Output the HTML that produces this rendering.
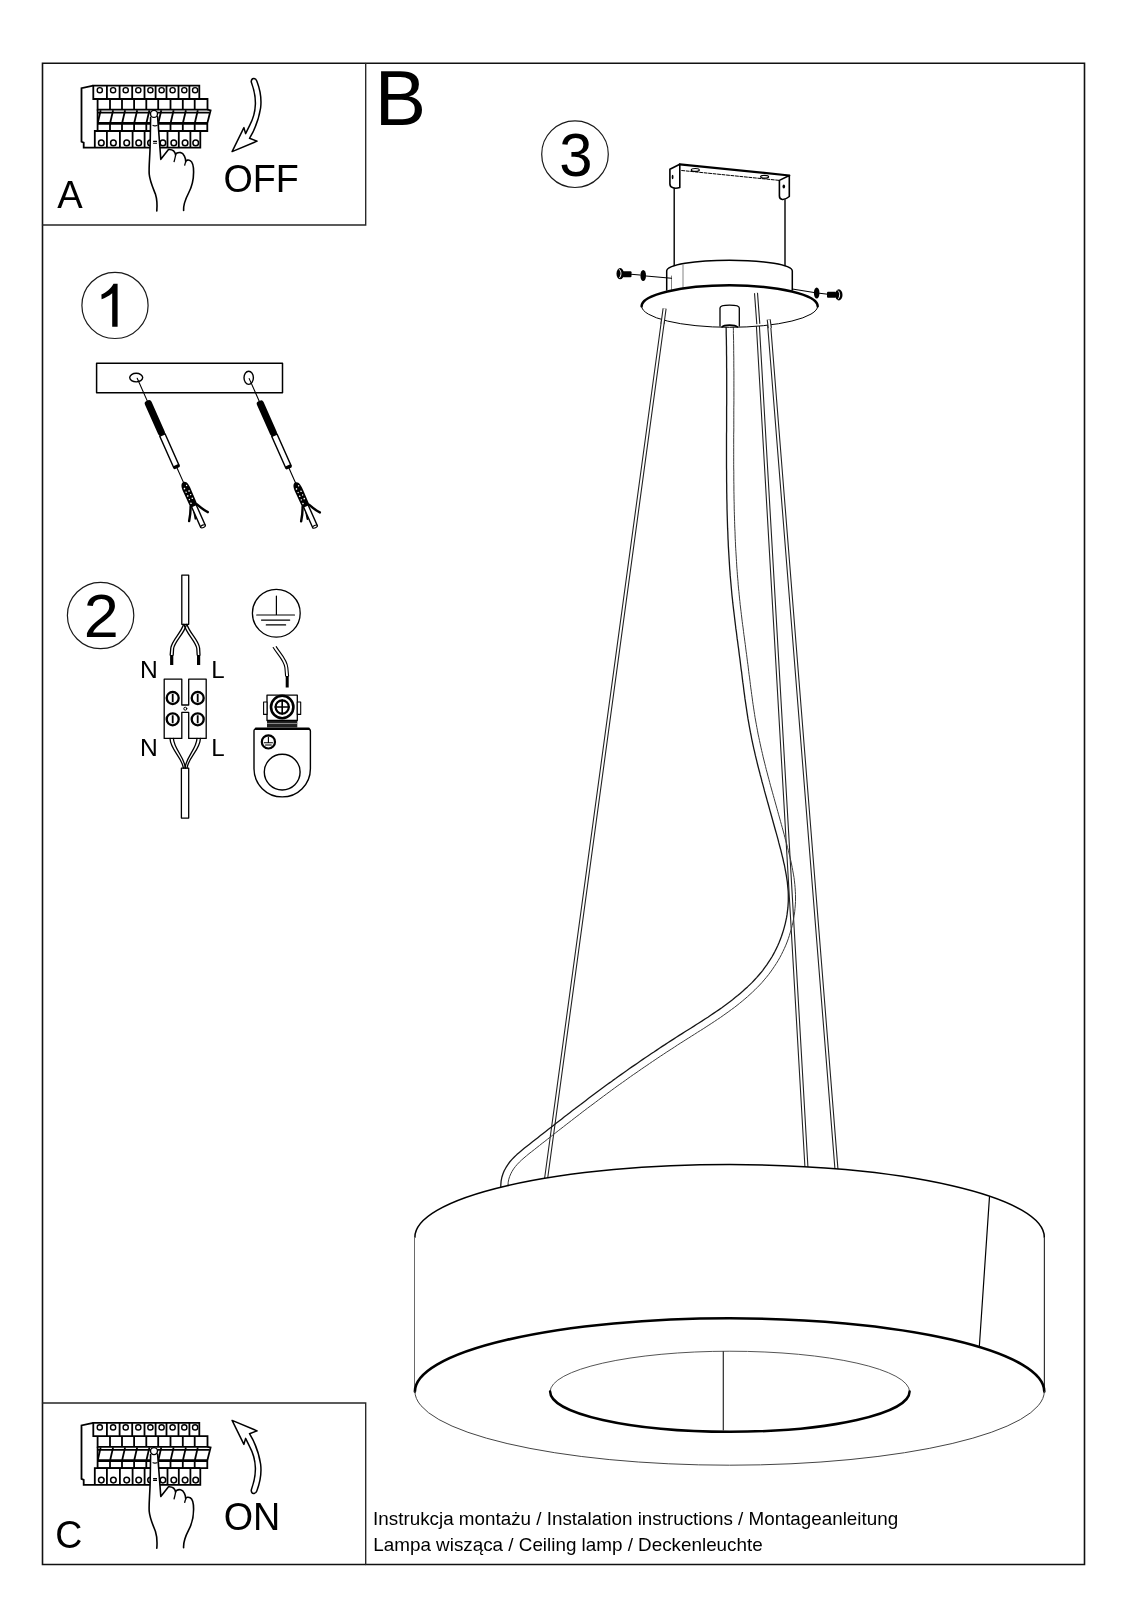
<!DOCTYPE html>
<html><head><meta charset="utf-8">
<style>
html,body{margin:0;padding:0;background:#fff;}
body{width:1131px;height:1600px;overflow:hidden;position:relative;}
svg{position:absolute;left:0;top:0;}
text{font-family:"Liberation Sans",sans-serif;fill:#000;}
svg{will-change:transform}
</style></head><body>
<svg width="1131" height="1600" viewBox="0 0 1131 1600" fill="none" stroke="#000" stroke-linecap="round" stroke-linejoin="round">
<!-- FRAME -->
<g id="frame">
<path d="M42.5 63.3H1084.5V1564.5H42.5Z" stroke-width="1.6" stroke="#111" stroke-linejoin="miter"/>
<path d="M365.7 63.3V225H42.5" stroke-width="1.35" stroke="#262626" stroke-linejoin="miter"/>
<path d="M42.5 1403H365.7V1564.5" stroke-width="1.35" stroke="#262626" stroke-linejoin="miter"/>
</g>
<!-- LABELS -->
<g id="labels" stroke="none" fill="#000" font-size="100">
<text transform="translate(57.3,207.8) scale(0.3818,0.3913)">A</text>
<text transform="translate(223.42,192.01) scale(0.3770,0.3873)">OFF</text>
<text transform="translate(374.84,124.8) scale(0.7698,0.7783)">B</text>
<text transform="translate(55.33,1547.81) scale(0.3746,0.3887)">C</text>
<text transform="translate(223.71,1530.11) scale(0.3774,0.3873)">ON</text>
<text transform="translate(83.85,636.8) scale(0.6304,0.6171)">2</text>
<text transform="translate(559.31,175.98) scale(0.5979,0.6183)">3</text>
<text transform="translate(373.11,1525.3) scale(0.1883,0.1870)">Instrukcja montażu / Instalation instructions / Montageanleitung</text>
<text transform="translate(373.29,1550.8) scale(0.1884,0.1880)">Lampa wisząca / Ceiling lamp / Deckenleuchte</text>
<path d="M117.6 283.7L117.6 326.8L112.2 326.8L112.2 293.2C109 296 105 298 101.6 299.3L101.4 294.4C106 292.5 111 288.5 113.5 283.7Z"/>
</g>
<!-- NUMBER CIRCLES -->
<g id="nums" stroke-width="1.2" stroke="#1a1a1a">
<circle cx="115" cy="305.4" r="33.1"/>
<circle cx="100.6" cy="615.5" r="33.2"/>
<circle cx="575" cy="154.2" r="33.3"/>
</g>
<!-- LAMP UPPER -->
<g id="lampup">
<!-- rods -->
<g id="rods" style="mix-blend-mode:multiply">
<path d="M664.6 308.5L545.9 1180M756 293L806.6 1170M768.7 319.6L836.6 1171" stroke-width="4.1" stroke="#222" stroke-linecap="butt"/>
<path d="M664.6 308.5L545.9 1180M756 293L806.6 1170M768.7 319.6L836.6 1171" stroke-width="1.9" stroke="#fff" stroke-linecap="butt"/>
</g>
<!-- cable -->
<path d="M726.1 327.1L726.2 330.4L726.2 333.8L726.3 337.1L726.4 340.4L726.4 343.8L726.5 347.1L726.5 350.5L726.5 353.8L726.6 357.1L726.6 360.5L726.6 363.8L726.6 367.2L726.7 370.5L726.7 373.9L726.7 377.2L726.7 380.6L726.7 383.9L726.7 387.3L726.7 390.6L726.7 394.0L726.7 397.4L726.7 400.7L726.7 404.1L726.6 407.4L726.6 410.8L726.6 414.1L726.6 417.5L726.6 420.9L726.6 424.2L726.6 427.6L726.6 430.9L726.5 434.3L726.5 437.6L726.5 441.0L726.5 444.4L726.5 447.7L726.5 451.1L726.5 454.5L726.5 457.8L726.5 461.2L726.5 464.5L726.5 467.9L726.6 471.3L726.6 474.6L726.6 478.0L726.6 481.4L726.7 484.7L726.7 488.1L726.7 491.4L726.8 494.8L726.8 498.2L726.9 501.5L727.0 504.9L727.0 508.3L727.1 511.6L727.2 515.0L727.3 518.3L727.4 521.7L727.5 525.1L727.6 528.4L727.8 531.8L727.9 535.1L728.0 538.5L728.2 541.9L728.3 545.2L728.5 548.6L728.7 551.9L728.9 555.3L729.1 558.6L729.3 562.0L729.5 565.3L729.7 568.7L730.0 572.1L730.2 575.4L730.5 578.8L730.8 582.1L731.1 585.5L731.4 588.8L731.7 592.2L732.0 595.5L732.4 598.8L732.7 602.2L733.1 605.5L733.5 608.9L733.9 612.2L734.3 615.5L734.7 618.9L735.1 622.2L735.5 625.5L735.9 628.9L736.4 632.2L736.8 635.5L737.2 638.9L737.7 642.2L738.1 645.5L738.6 648.8L739.0 652.2L739.4 655.5L739.9 658.8L740.3 662.2L740.7 665.5L741.1 668.8L741.6 672.2L742.0 675.5L742.4 678.8L742.8 682.2L743.3 685.5L743.7 688.9L744.1 692.2L744.6 695.6L745.0 698.9L745.5 702.2L746.0 705.6L746.5 708.9L747.0 712.3L747.5 715.6L748.0 718.9L748.6 722.2L749.2 725.6L749.8 728.9L750.4 732.2L751.1 735.5L751.7 738.8L752.4 742.1L753.1 745.4L753.8 748.6L754.6 751.9L755.3 755.2L756.1 758.4L756.9 761.7L757.7 765.0L758.5 768.2L759.4 771.5L760.2 774.7L761.1 777.9L761.9 781.2L762.8 784.4L763.7 787.6L764.5 790.9L765.4 794.1L766.3 797.3L767.2 800.6L768.1 803.8L769.0 807.0L769.9 810.3L770.8 813.5L771.7 816.7L772.6 820.0L773.5 823.2L774.4 826.5L775.3 829.7L776.2 832.9L777.1 836.2L778.0 839.4L778.8 842.7L779.7 846.0L780.6 849.2L781.4 852.5L782.2 855.8L783.0 859.0L783.7 862.3L784.5 865.5L785.1 868.8L785.7 872.1L786.3 875.3L786.8 878.6L787.3 881.8L787.6 885.1L787.9 888.3L788.2 891.5L788.3 894.8L788.3 898.0L788.3 901.2L788.1 904.5L787.9 907.7L787.5 910.9L787.1 914.2L786.6 917.4L785.9 920.6L785.2 923.8L784.4 926.9L783.5 930.1L782.5 933.2L781.5 936.3L780.3 939.4L779.1 942.4L777.8 945.4L776.4 948.4L775.0 951.3L773.5 954.1L771.9 957.0L770.2 959.7L768.4 962.4L766.6 965.1L764.7 967.7L762.8 970.3L760.8 972.8L758.7 975.2L756.6 977.6L754.4 980.0L752.2 982.4L749.9 984.6L747.5 986.9L745.1 989.1L742.7 991.3L740.2 993.4L737.7 995.6L735.1 997.6L732.5 999.7L729.9 1001.7L727.2 1003.7L724.5 1005.7L721.8 1007.7L719.1 1009.6L716.3 1011.5L713.5 1013.4L710.7 1015.3L707.9 1017.2L705.0 1019.0L702.2 1020.9L699.3 1022.7L696.4 1024.5L693.6 1026.4L690.7 1028.2L687.8 1030.0L684.9 1031.8L682.1 1033.6L679.2 1035.4L676.3 1037.3L673.5 1039.1L670.7 1040.9L667.8 1042.7L665.0 1044.6L662.2 1046.4L659.4 1048.3L656.7 1050.1L653.9 1052.0L651.1 1053.8L648.3 1055.7L645.6 1057.5L642.8 1059.4L640.1 1061.3L637.4 1063.2L634.6 1065.1L631.9 1066.9L629.2 1068.8L626.5 1070.8L623.7 1072.7L621.0 1074.6L618.3 1076.5L615.6 1078.5L612.9 1080.4L610.2 1082.4L607.5 1084.3L604.8 1086.3L602.1 1088.3L599.4 1090.3L596.7 1092.3L594.0 1094.3L591.3 1096.3L588.6 1098.3L585.9 1100.4L583.3 1102.4L580.6 1104.5L577.9 1106.5L575.2 1108.6L572.5 1110.6L569.8 1112.7L567.1 1114.8L564.4 1116.8L561.8 1118.9L559.1 1121.0L556.4 1123.1L553.7 1125.2L551.1 1127.3L548.4 1129.3L545.7 1131.4L543.1 1133.5L540.4 1135.6L537.8 1137.7L535.1 1139.8L532.5 1141.8L529.8 1143.9L527.2 1146.0L524.5 1148.1L521.9 1150.2L519.3 1152.4L516.8 1154.6L514.3 1157.0L512.0 1159.4L509.7 1162.0L507.7 1164.8L505.9 1167.7L504.2 1170.7L502.9 1174.0L501.8 1177.5L501.1 1181.2L500.8 1185.1L500.8 1189.2" stroke-width="1.3" stroke="#151515"/>
<path d="M733.3 326.9L733.4 330.3L733.4 333.6L733.5 337.0L733.6 340.3L733.6 343.7L733.7 347.0L733.7 350.4L733.7 353.7L733.8 357.1L733.8 360.4L733.8 363.8L733.8 367.2L733.9 370.5L733.9 373.9L733.9 377.2L733.9 380.6L733.9 383.9L733.9 387.3L733.9 390.7L733.9 394.0L733.9 397.4L733.9 400.7L733.9 404.1L733.8 407.4L733.8 410.8L733.8 414.2L733.8 417.5L733.8 420.9L733.8 424.2L733.8 427.6L733.8 431.0L733.7 434.3L733.7 437.7L733.7 441.0L733.7 444.4L733.7 447.7L733.7 451.1L733.7 454.5L733.7 457.8L733.7 461.2L733.7 464.5L733.7 467.9L733.8 471.2L733.8 474.6L733.8 477.9L733.8 481.3L733.9 484.6L733.9 488.0L733.9 491.4L734.0 494.7L734.0 498.1L734.1 501.4L734.2 504.7L734.2 508.1L734.3 511.4L734.4 514.8L734.5 518.1L734.6 521.5L734.7 524.8L734.8 528.2L735.0 531.5L735.1 534.8L735.2 538.2L735.4 541.5L735.5 544.9L735.7 548.2L735.9 551.5L736.1 554.9L736.3 558.2L736.5 561.5L736.7 564.9L736.9 568.2L737.2 571.5L737.4 574.8L737.7 578.2L738.0 581.5L738.2 584.8L738.5 588.1L738.9 591.5L739.2 594.8L739.5 598.1L739.9 601.4L740.2 604.7L740.6 608.0L741.0 611.4L741.4 614.7L741.8 618.0L742.2 621.3L742.6 624.6L743.1 627.9L743.5 631.3L743.9 634.6L744.4 637.9L744.8 641.2L745.3 644.6L745.7 647.9L746.1 651.2L746.6 654.6L747.0 657.9L747.4 661.2L747.9 664.6L748.3 667.9L748.7 671.3L749.1 674.6L749.6 677.9L750.0 681.3L750.4 684.6L750.8 687.9L751.3 691.3L751.7 694.6L752.2 697.9L752.6 701.2L753.1 704.6L753.6 707.9L754.1 711.2L754.6 714.5L755.1 717.7L755.7 721.0L756.3 724.3L756.9 727.6L757.5 730.8L758.1 734.1L758.8 737.3L759.5 740.6L760.2 743.8L760.9 747.1L761.6 750.3L762.4 753.5L763.1 756.8L763.9 760.0L764.7 763.2L765.5 766.4L766.3 769.7L767.2 772.9L768.0 776.1L768.9 779.3L769.7 782.5L770.6 785.8L771.5 789.0L772.4 792.2L773.3 795.4L774.2 798.6L775.1 801.9L776.0 805.1L776.9 808.3L777.8 811.6L778.7 814.8L779.6 818.0L780.5 821.3L781.4 824.5L782.3 827.8L783.2 831.0L784.1 834.3L784.9 837.6L785.8 840.9L786.7 844.1L787.5 847.4L788.4 850.7L789.2 854.0L790.0 857.4L790.8 860.7L791.5 864.0L792.2 867.4L792.8 870.8L793.4 874.1L794.0 877.5L794.4 880.9L794.8 884.3L795.1 887.7L795.3 891.2L795.5 894.6L795.5 898.0L795.5 901.5L795.3 904.9L795.0 908.4L794.7 911.8L794.2 915.2L793.6 918.7L793.0 922.1L792.2 925.4L791.4 928.8L790.4 932.1L789.4 935.4L788.3 938.7L787.1 942.0L785.8 945.2L784.4 948.4L782.9 951.5L781.4 954.6L779.8 957.6L778.1 960.6L776.3 963.5L774.4 966.4L772.5 969.2L770.5 972.0L768.5 974.7L766.4 977.3L764.2 979.9L762.0 982.5L759.7 985.0L757.3 987.4L754.9 989.8L752.5 992.1L750.0 994.4L747.5 996.7L744.9 998.9L742.3 1001.1L739.6 1003.3L737.0 1005.4L734.3 1007.5L731.5 1009.5L728.8 1011.5L726.0 1013.5L723.2 1015.5L720.4 1017.5L717.5 1019.4L714.7 1021.3L711.8 1023.2L708.9 1025.1L706.1 1026.9L703.2 1028.8L700.3 1030.6L697.4 1032.4L694.5 1034.3L691.6 1036.1L688.8 1037.9L685.9 1039.7L683.1 1041.5L680.2 1043.3L677.4 1045.1L674.6 1047.0L671.8 1048.8L669.0 1050.6L666.2 1052.4L663.4 1054.3L660.6 1056.1L657.9 1057.9L655.1 1059.8L652.4 1061.6L649.6 1063.5L646.9 1065.4L644.2 1067.2L641.4 1069.1L638.7 1071.0L636.0 1072.9L633.3 1074.7L630.6 1076.6L627.9 1078.5L625.2 1080.5L622.5 1082.4L619.8 1084.3L617.1 1086.2L614.4 1088.2L611.8 1090.1L609.1 1092.1L606.4 1094.1L603.7 1096.1L601.0 1098.1L598.3 1100.1L595.7 1102.1L593.0 1104.1L590.3 1106.1L587.6 1108.1L584.9 1110.2L582.2 1112.2L579.6 1114.3L576.9 1116.3L574.2 1118.4L571.5 1120.5L568.9 1122.5L566.2 1124.6L563.5 1126.7L560.8 1128.8L558.2 1130.8L555.5 1132.9L552.8 1135.0L550.2 1137.1L547.5 1139.2L544.9 1141.3L542.2 1143.3L539.6 1145.4L536.9 1147.5L534.3 1149.6L531.6 1151.7L529.0 1153.7L526.5 1155.8L524.0 1157.9L521.6 1160.0L519.4 1162.1L517.3 1164.3L515.4 1166.5L513.6 1168.9L512.1 1171.3L510.8 1173.8L509.7 1176.4L508.8 1179.2L508.2 1182.2L508.0 1185.4L508.0 1188.8" stroke-width="1.0" stroke="#3a3a3a"/>
<!-- bracket -->
<path d="M674.2 188V267.7M785 199.6V266" stroke-width="1.4"/>
<path d="M679.8 164.3L789.3 175.5" stroke-width="2.2"/>
<path d="M681.7 170.5L779.4 180.4" stroke-width="1" stroke-dasharray="3 1.5"/>
<path d="M679.8 164.3L669.9 169.3V184C669.9 188 675 189 679.8 187.5V164.3" fill="#fff" stroke-width="1.6"/>
<path d="M789.3 175.5L779.4 180.4V196C779.4 200 784 201 789.3 196.5V175.5" fill="#fff" stroke-width="1.6"/>
<ellipse cx="672.6" cy="177" rx="0.9" ry="2.2" fill="#000" stroke="none"/>
<ellipse cx="783.8" cy="186.5" rx="1.3" ry="2" fill="#000" stroke="none"/>
<ellipse cx="695.3" cy="169.9" rx="4" ry="1.4" stroke-width="1.2"/>
<ellipse cx="764.6" cy="176.7" rx="4" ry="1.4" stroke-width="1.2"/>
<!-- canopy cylinder -->
<path d="M666.7 290V271A62.8 10.8 0 0 1 792.3 271V290" fill="#fff" stroke-width="1.5"/>
<path d="M671.5 276V290M683 265V289" stroke-width="0.9" stroke="#777"/>
<!-- plate -->
<path d="M641.6 306.3A88 21 0 0 0 817.7 306.3" fill="#fff" stroke-width="1"/>
<path d="M641.6 306.3A88 21 0 0 1 817.7 306.3" fill="#fff" stroke-width="2.5"/>
<!-- rods on plate (tops) -->
<path d="M664.6 308.5L662.5 324M756 293L758.3 324M768.7 319.6L769.8 328" stroke-width="4.1" stroke="#222" stroke-linecap="butt"/>
<path d="M664.6 308.5L662.5 324M756 293L758.3 324M768.7 319.6L769.8 328" stroke-width="1.9" stroke="#fff" stroke-linecap="butt"/>
<!-- socket -->
<path d="M720 326V308C720 305.8 724 305.2 729.6 305.2C735 305.2 739.3 305.8 739.3 308V326" fill="#fff" stroke-width="1.3"/>
<path d="M722 327C724 324.5 735 324.5 737.5 327" stroke-width="1.6"/>
<!-- screws -->
<path d="M631 274.3L640 275M646 276L671.5 278.3" stroke-width="1.1"/>
<rect x="622.5" y="271.3" width="9" height="6" rx="1" fill="#000" stroke="none"/>
<ellipse cx="620.2" cy="273.7" rx="3.7" ry="5.6" fill="#000" stroke="none"/>
<path d="M619.5 269.5C621.5 271 621.5 276 619.5 277.8" stroke="#fff" stroke-width="1"/>
<ellipse cx="643.2" cy="275.5" rx="2.8" ry="5.6" fill="#000" stroke="none"/>
<path d="M792.3 289L814 292.5M819.5 293.3L828 294.3" stroke-width="1.1"/>
<ellipse cx="816.7" cy="293" rx="2.8" ry="5.6" fill="#000" stroke="none"/>
<rect x="827" y="291.8" width="9" height="6" rx="1" fill="#000" stroke="none"/>
<ellipse cx="838.8" cy="294.9" rx="3.7" ry="5.6" fill="#000" stroke="none"/>
<path d="M838.2 290.8C840.2 292.5 840.2 297 838.2 299" stroke="#fff" stroke-width="1"/>
</g>
<!-- LAMP RING -->
<g id="ring">
<path d="M414.9 1237.2A314.7 72.7 0 0 1 1044.3 1237.2V1391.6A314.7 73.3 0 0 1 414.9 1391.6Z" fill="#fff" stroke="none"/>
<path d="M414.9 1237.2A314.7 72.7 0 0 1 1044.3 1237.2" stroke-width="1.5"/>
<path d="M414.5 1237.2V1391.6" stroke-width="1" stroke="#6a6a6a" stroke-linecap="butt"/>
<path d="M1044.4 1237.2V1391.6" stroke-width="1.2" stroke="#333" stroke-linecap="butt"/>
<path d="M414.9 1391.6A314.7 73.3 0 0 1 1044.3 1391.6" stroke-width="2.6"/>
<path d="M414.9 1391.6A314.7 73.6 0 0 0 1044.3 1391.6" stroke-width="1" stroke="#444"/>
<path d="M550.1 1391.5A179.75 40.3 0 0 1 909.6 1391.5" stroke-width="1" stroke="#555"/>
<path d="M550.1 1391.5A179.75 40.3 0 0 0 909.6 1391.5" stroke-width="2.5"/>
<path d="M723.3 1351.3V1430.5" stroke-width="1.2" stroke="#2a2a2a" stroke-linecap="butt"/>
<path d="M989.5 1196.6L979.3 1347" stroke-width="1.2"/>
</g>
<!-- BOX A / C drawings -->
<g id="brk" stroke-width="1.8" stroke-linecap="butt" stroke-linejoin="miter">
<path d="M93.3 85.6L81.5 88.2V141.7L83.7 142.7V147.6H200.3V131"/>
<path d="M93.3 85.6H199.3V99H93.3Z"/>
<path d="M106.9 85.6V99M119.6 85.6V99M132.2 85.6V99M144.5 85.6V99M155.6 85.6V99M166.5 85.6V99M178.5 85.6V99M189.4 85.6V99"/>
<circle cx="99.8" cy="90.2" r="2.6" stroke-width="1.4"/>
<circle cx="113.1" cy="90.2" r="2.6" stroke-width="1.4"/>
<circle cx="125.7" cy="90.2" r="2.6" stroke-width="1.4"/>
<circle cx="138.3" cy="90.2" r="2.6" stroke-width="1.4"/>
<circle cx="150.4" cy="90.2" r="2.6" stroke-width="1.4"/>
<circle cx="161.6" cy="90.2" r="2.6" stroke-width="1.4"/>
<circle cx="172.6" cy="90.2" r="2.6" stroke-width="1.4"/>
<circle cx="184.3" cy="90.2" r="2.6" stroke-width="1.4"/>
<circle cx="195.1" cy="90.2" r="2.6" stroke-width="1.4"/>
<path d="M97.6 99V109.6H207.5V99H199"/>
<path d="M110.0 99V109.6M122.0 99V109.6M134.1 99V109.6M146.3 99V109.6M158.2 99V109.6M170.5 99V109.6M182.8 99V109.6M194.7 99V109.6"/>
<path d="M97.6 109.6V131H207.3V123.3L210.6 110.3L207.5 109.6"/>
<path d="M98 112.6H209.5" stroke-width="1.7"/>
<path d="M97.6 123.4H207.3" stroke-width="2.6"/>
<path d="M100.7 110.2L97.8 122.8"/>
<path d="M113.1 110.2L110.2 122.8"/>
<path d="M125.1 110.2L122.2 122.8"/>
<path d="M137.2 110.2L134.3 122.8"/>
<path d="M149.4 110.2L146.5 122.8"/>
<path d="M161.3 110.2L158.4 122.8"/>
<path d="M173.6 110.2L170.7 122.8"/>
<path d="M185.9 110.2L183.0 122.8"/>
<path d="M197.8 110.2L194.9 122.8"/>
<path d="M110.0 123.4V131M122.0 123.4V131M134.1 123.4V131M146.3 123.4V131M158.2 123.4V131M170.5 123.4V131M182.8 123.4V131M194.7 123.4V131"/>
<path d="M94.8 147.6V131H200.3"/>
<path d="M106.9 131V147.6M119.9 131V147.6M132.6 131V147.6M144.6 131V147.6M156.6 131V147.6M167.5 131V147.6M178.8 131V147.6M190.4 131V147.6"/>
<circle cx="101.3" cy="142.9" r="2.8" stroke-width="1.5"/>
<circle cx="113.4" cy="142.9" r="2.8" stroke-width="1.5"/>
<circle cx="126.7" cy="142.9" r="2.8" stroke-width="1.5"/>
<circle cx="138.7" cy="142.9" r="2.8" stroke-width="1.5"/>
<circle cx="150.5" cy="142.9" r="2.8" stroke-width="1.5"/>
<circle cx="162.9" cy="142.9" r="2.8" stroke-width="1.5"/>
<circle cx="173.8" cy="142.9" r="2.8" stroke-width="1.5"/>
<circle cx="185.1" cy="142.9" r="2.8" stroke-width="1.5"/>
<circle cx="195.7" cy="142.9" r="2.8" stroke-width="1.5"/>
<path fill="#fff" stroke="none" d="M150.6 117.4C150.4 130 150.3 140 150 150C149.6 160 148.8 168 149.2 174C149.8 181 153 188 155.4 194C157 199 157.3 205 156.8 211 L183.6 210.5 C183.2 204 185.5 199 188.6 193C191.8 187 193.6 180 193.6 172C193.6 166 192.8 162 190.2 160.6C188.2 159.6 186.4 160 185.7 161.6C185.7 158 184 153.5 180.6 152.6C177.5 152 175.8 153.5 175.6 155C175 151 172 149.3 168.5 149.5L160.8 159.3L157.6 116.8 Z"/><path stroke-width="1.6" stroke-linecap="round" stroke-linejoin="round" d="M150.6 117.4C150.4 130 150.3 140 150 150C149.6 160 148.8 168 149.2 174C149.8 181 153 188 155.4 194C157 199 157.3 205 156.8 211"/><path stroke-width="1.6" stroke-linecap="round" stroke-linejoin="round" d="M183.6 210.5C183.2 204 185.5 199 188.6 193C191.8 187 193.6 180 193.6 172C193.6 166 192.8 162 190.2 160.6C188.2 159.6 186.4 160 185.7 161.6C185.7 158 184 153.5 180.6 152.6C177.5 152 175.8 153.5 175.6 155C175 151 172 149.3 168.5 149.5L160.8 159.3L157.6 116.8"/>
<path stroke-width="1.3" d="M175.6 155C175.2 158 174.4 160 174 162.2M185.7 161.6C185.4 163 184.9 164 184.6 165.6"/>
<circle cx="154" cy="113.9" r="3.5" fill="#fff" stroke-width="1.4"/>
<path stroke-width="1.1" d="M152.6 125.2Q155 126.6 157.4 125.2M153.1 141.4H157M153.1 143.2H157"/>
</g>
<path id="arr" stroke-width="1.5" d="M251.2 81.8C253.5 88 255.6 96 255.4 104C255.2 112 252.5 120 249.8 125.1L245.6 133.6L243.9 127.6L232.1 151.6L257.1 141.1L249.5 138.3C254 131 258.5 121 260.6 108C262 97 259.5 88 256.8 81C255.5 77.5 251.5 77.5 251.2 81.8Z"/>
<use href="#brk" transform="translate(0,1337.2)"/>
<use href="#arr" transform="translate(0,1572) scale(1,-1)"/>
<!-- SECTION 1 -->
<g id="sec1">
<rect x="96.6" y="363.3" width="185.9" height="29.4" stroke-width="1.5"/>
<ellipse cx="136.2" cy="377.6" rx="6.5" ry="4.3" stroke-width="1.4"/>
<ellipse cx="248.7" cy="377.8" rx="4.7" ry="6.6" stroke-width="1.4"/>
<g id="scr" transform="translate(137.2,378.3) rotate(-23.97)">
<path d="M0 0V25M0 97V115" stroke-width="1.1"/>
<rect x="-3.6" y="24.5" width="7.2" height="38" rx="2.8" fill="#000" stroke="none"/>
<rect x="-2.9" y="62" width="5.8" height="34.5" fill="#fff" stroke-width="1.4"/>
<rect x="-3.3" y="95" width="6.6" height="3.4" rx="1.2" fill="#000" stroke="none"/>
<path d="M-1 137 C-1.5 142 -2.5 147 -3.8 152" stroke-width="1.8" stroke-linecap="round"/>
<path d="M-3.4 139 C-5.5 144 -8 148 -10.5 151.5" stroke-width="2.4"/>
<path d="M3.4 139.5 C5.5 144 7.5 148 10.2 151" stroke-width="2.4"/>
<rect x="-2.5" y="138" width="5" height="24" fill="#fff" stroke-width="1.4"/>
<ellipse cx="0" cy="162" rx="2.5" ry="1.3" fill="#fff" stroke-width="1.2"/>
<path d="M0 113.5 C3.5 114 4.2 118 4 124 L3.8 140 L-3.8 140 L-4 124 C-4.2 118 -3.5 114 0 113.5Z" fill="#000" stroke="none"/>
<g fill="#fff" stroke="none">
<circle cx="-1.6" cy="120" r="0.8"/><circle cx="1.6" cy="124" r="0.8"/><circle cx="-1.6" cy="128" r="0.8"/><circle cx="1.6" cy="132" r="0.8"/><circle cx="-1.6" cy="136" r="0.8"/>
<circle cx="1.6" cy="118" r="0.7"/><circle cx="-1.6" cy="124" r="0.7"/><circle cx="1.6" cy="128" r="0.7"/><circle cx="-1.6" cy="132" r="0.7"/>
</g>
</g>
<use href="#scr" transform="translate(112,0.3)"/>
</g>
<!-- SECTION 2 -->
<g id="sec2" stroke-width="1.3">
<rect x="181.8" y="575.1" width="6.9" height="49.2"/>
<path d="M183.5 624.5C181 633 172 640 170.8 648L170.2 655M186.5 624.5C184 634 175 641 173.6 648.5L173.2 655"/>
<path d="M187 624.5C189.5 633 198.5 640 199.6 648L200 655M184 624.5C186.5 634 195.5 641 196.8 648.5L197.2 655"/>
<path d="M171.7 655V665" stroke-width="3.2" stroke-linecap="butt"/>
<path d="M198.6 655V665" stroke-width="3.2" stroke-linecap="butt"/>
<path d="M164.2 679.2H181.8V705H188.7V679.2H206.2V738.4H188.7V712.4H181.8V738.4H164.2Z"/>
<circle cx="185.3" cy="708.7" r="1.5" stroke-width="1"/>
<g stroke-width="2.3">
<circle cx="172.7" cy="698" r="6"/><circle cx="197.7" cy="698" r="6"/>
<circle cx="172.7" cy="719.3" r="6"/><circle cx="197.7" cy="719.3" r="6"/>
</g>
<path d="M172.7 694V702M197.7 694V702M172.7 715.3V723.3M197.7 715.3V723.3" stroke-width="1.8" stroke-linecap="butt"/>
<path d="M170 738.5C170.5 750 182 757 183.4 768.2M173.4 738.5C174 749 184.5 757 185.4 768.2"/>
<path d="M200.4 738.5C200 750 188.5 757 187 768.2M197 738.5C196.5 749 186 757 185 768.2"/>
<rect x="181.4" y="768.2" width="7.3" height="49.9"/>
<g stroke="none" fill="#000" font-size="100">
<text transform="translate(139.93,677.8) scale(0.2464,0.2377)">N</text>
<text transform="translate(211.17,677.8) scale(0.2409,0.2377)">L</text>
<text transform="translate(139.93,756) scale(0.2464,0.2391)">N</text>
<text transform="translate(211.17,756) scale(0.2409,0.2391)">L</text>
</g>
<circle cx="276.3" cy="613.2" r="23.9"/>
<path d="M276.4 596V614.6M256.7 615H294.5M261.5 620.1H289.7M266.3 624.9H285.6" stroke-width="1.2"/>
<path d="M273.2 647.5C277 654 284 660 284.9 667.6L285.6 676M276.2 646.6C280 653 287 659 287.8 667.6L288.6 676" stroke-width="1.1"/>
<path d="M287.2 676V687.5" stroke-width="3" stroke-linecap="butt"/>
<path d="M254 730.5C254 729 255 728.8 257 728.8H307.5C309.5 728.8 310.4 729.5 310.4 731V768.7A28.2 28.2 0 0 1 254 768.7Z" fill="#fff" stroke-width="1.4"/>
<path d="M256 728.8H308.5" stroke-width="2.6"/>
<circle cx="282.2" cy="772.1" r="17.9" stroke-width="1.4"/>
<rect x="267" y="720.5" width="30.3" height="7" fill="#222" stroke="none"/>
<path d="M267.5 723.5H296.8" stroke="#888" stroke-width="1"/>
<rect x="267" y="695.1" width="30.3" height="25.4" fill="#fff"/>
<rect x="263.6" y="702" width="3.4" height="12.4" fill="#fff" stroke-width="1.1"/>
<rect x="297.3" y="702" width="3.4" height="12.4" fill="#fff" stroke-width="1.1"/>
<circle cx="282.2" cy="707" r="11.2" stroke-width="2.6"/>
<circle cx="282.2" cy="707" r="6.6" stroke-width="2.2"/>
<path d="M282.2 700V714M275.2 707H289.2" stroke-width="1.6"/>
<circle cx="268.4" cy="741.9" r="6.6" stroke-width="2.2"/>
<path d="M268.4 737V742.5M264.3 742.8H272.5M265.5 745H271.3" stroke-width="1.1"/>
</g>
</svg>
</body></html>
